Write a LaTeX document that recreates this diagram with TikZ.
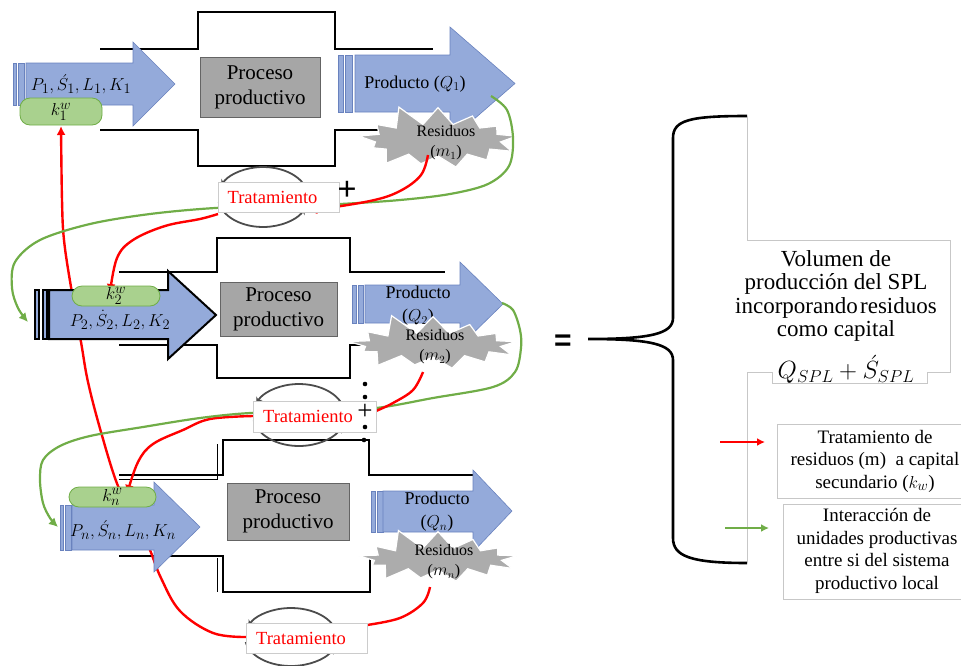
\documentclass[tikz,border=0pt]{standalone}
\usepackage{fontspec}
\setmainfont{Liberation Serif}
\newfontfamily\symfont{Liberation Sans}
\usetikzlibrary{arrows.meta,shapes.symbols,calc}
\definecolor{ablue}{RGB}{148,170,218}
\definecolor{ablueedge}{RGB}{105,130,190}
\definecolor{pgreen}{RGB}{169,209,142}
\definecolor{pgreenedge}{RGB}{112,173,71}
\definecolor{lgreen}{RGB}{112,173,71}
\definecolor{pgray}{RGB}{166,166,166}
\definecolor{sgray}{RGB}{172,172,172}
\definecolor{pgrayedge}{RGB}{100,100,100}
\definecolor{lred}{RGB}{255,0,0}
\pgfdeclarelayer{bg}
\pgfdeclarelayer{fg}
\pgfdeclarelayer{top}
\pgfsetlayers{bg,main,fg,top}
\begin{document}
\begin{tikzpicture}[x=1pt,y=-1pt,
  frame/.style={line width=1.6pt, black},
  barr/.style={fill=ablue, draw=ablueedge, line width=0.6pt},
  barrbold/.style={fill=ablue, draw=black, line width=2pt},
  pill/.style={fill=pgreen, draw=pgreenedge, line width=0.8pt, rounded corners=10pt, inner sep=0pt, font=\fontsize{19}{19}\selectfont},
  proc/.style={fill=pgray, draw=pgrayedge, line width=0.8pt, inner sep=0pt, align=center, font=\rmfamily\fontsize{21}{25}\selectfont},
  intext/.style={font=\fontsize{19}{19}\selectfont, inner sep=0pt},
  prodtext/.style={font=\fontsize{18}{23}\selectfont, align=center, inner sep=0pt},
  burst/.style={starburst, starburst points=13, starburst point height=22pt, random starburst=11, fill=sgray, draw=white, line width=1.2pt, inner sep=0pt},
  restext/.style={font=\fontsize{16}{20}\selectfont, align=center, inner sep=0pt},
  trat/.style={fill=white, draw=black!20, line width=0.6pt, inner sep=0pt, text=lred, font=\fontsize{18.5}{18.5}\selectfont},
  cyc/.style={draw=black!70, line width=1.8pt, -{Stealth[length=6pt,width=7pt,fill=gray]}},
  gline/.style={draw=lgreen, line width=2.2pt},
  rline/.style={draw=lred, line width=2.4pt},
  tipr/.style={-{Latex[length=9pt,width=9pt]}},
  boxline/.style={draw=black!22, line width=0.7pt},
  legtext/.style={font=\fontsize{19}{22.5}\selectfont, align=center, inner sep=0pt},
  dotm/.style={fill=black}
]
\useasboundingbox (0,0) rectangle (961,665);

% ---------------- frames ----------------
\begin{pgfonlayer}{bg}
\draw[frame] (100,49) -| (198,12) -| (335,49) -- (433,49);
\draw[frame] (100,130) -| (198,166) -| (335,130) -- (433,130);
\draw[frame] (119,272) -| (217,238) -| (350,272) -- (445,272);
\draw[frame] (119,345) -| (217,378) -| (350,345) -- (400,345);
\draw[frame, line width=2.4pt] (119,475) -| (223,440) -| (369,475) -- (473,475);
\draw[frame, line width=2.4pt] (119,556) -| (223,592) -| (370,556) -- (390,556);
\draw[line width=0.6pt] (119,479) -- (217,479) -- (217,444);
\draw[line width=0.6pt] (217,558) -- (217,592);
\end{pgfonlayer}

% ---------------- unit 1 ----------------
\draw[barr] (13,63) rectangle (16,105);
\draw[barr] (18,63) rectangle (24,105);
\draw[barr] (26,63) -- (133,63) -- (133,42) -- (175,84) -- (133,126) -- (133,105) -- (26,105) -- cycle;
\node[intext] (in1) at (81,84) {$P_1,\acute{S}_1,L_1,K_1$};
\node[pill, minimum width=82pt, minimum height=27pt] (k1) at (61,111.5) {$k_1^w$};
\node[proc, minimum width=120pt, minimum height=60pt] (pp1) at (260,87) {Proceso\\productivo};
\draw[barr] (338,55) rectangle (343,112);
\draw[barr] (345,55) rectangle (352,112);
\draw[barr] (355,55) -- (450,55) -- (450,27) -- (515,83.5) -- (450,140) -- (450,112) -- (355,112) -- cycle;
\node[prodtext] (prod1) at (415,84) {Producto ($Q_1$)};
\node[burst, minimum width=170pt, minimum height=76pt] (sb1) at (438,140) {};
\node[restext] (res1) at (446,143) {Residuos\\($m_1$)};

% ---------------- unit 2 ----------------
\draw[barrbold] (35,290) rectangle (39,339);
\draw[barrbold] (43,290) rectangle (47,339);
\draw[barrbold] (49,290) -- (168,290) -- (168,271) -- (216,315) -- (168,359) -- (168,339) -- (49,339) -- cycle;
\node[intext] (in2) at (120,320) {$P_2,\dot{S}_2,L_2,K_2$};
\node[pill, minimum width=88pt, minimum height=20pt] (k2) at (116,296) {$k_2^w$};
\node[proc, minimum width=117pt, minimum height=54pt] (pp2) at (278.5,309) {Proceso\\productivo};
\draw[barr] (352,285) rectangle (356,323);
\draw[barr] (358,285) rectangle (363,323);
\draw[barr] (365,285) -- (460,285) -- (460,262) -- (503,304) -- (460,346) -- (460,323) -- (365,323) -- cycle;
\node[prodtext] (prod2) at (418,306) {Producto\\($Q_2$)};
\node[burst, minimum width=180pt, minimum height=68pt] (sb2) at (433,345) {};
\node[restext] (res2) at (435,347) {Residuos\\($m_2$)};

% ---------------- unit n ----------------
\draw[barr] (60,505) rectangle (63,550);
\draw[barr] (65,505) rectangle (71,550);
\draw[barr] (72,505) -- (154,505) -- (154,482) -- (200,527) -- (154,572) -- (154,550) -- (72,550) -- cycle;
\node[intext] (inn) at (123,530) {$P_n,\acute{S}_n,L_n,K_n$};
\node[pill, minimum width=87pt, minimum height=20pt] (kn) at (112.5,497) {$k_n^w$};
\node[proc, minimum width=122pt, minimum height=57pt] (ppn) at (288,511.5) {Proceso\\productivo};
\draw[barr] (371,491) rectangle (375,532);
\draw[barr] (377,491) rectangle (383,532);
\draw[barr] (383,491) -- (473,491) -- (473,470) -- (512,511) -- (473,552) -- (473,532) -- (383,532) -- cycle;
\node[prodtext] (prodn) at (437,512) {Producto\\($Q_n$)};
\node[burst, minimum width=172pt, minimum height=66pt] (sbn) at (438,559) {};
\node[restext] (resn) at (444,562) {Residuos\\($m_n$)};

% ---------------- tratamiento ----------------
\begin{pgfonlayer}{top}
\draw[cyc] (263,197) ++(190:45pt and 30pt) arc[start angle=190, end angle=338, x radius=45pt, y radius=30pt];
\draw[cyc] (263,197) ++(10:45pt and 30pt) arc[start angle=10, end angle=158, x radius=45pt, y radius=30pt];
\node[trat, minimum width=121pt, minimum height=30pt] (t1) at (278.5,197) {Tratamiento\hspace*{12pt}};
\node[font=\fontsize{34}{34}\selectfont\bfseries, inner sep=0pt] (plus1) at (347,191) {+};

\draw[cyc] (299,415) ++(190:46pt and 31pt) arc[start angle=190, end angle=338, x radius=46pt, y radius=31pt];
\draw[cyc] (299,415) ++(10:46pt and 31pt) arc[start angle=10, end angle=158, x radius=46pt, y radius=31pt];
\node[trat, minimum width=123pt, minimum height=31pt] (t2) at (314.5,416.5) {Tratamiento\hspace*{13pt}};
\node[font=\fontsize{27}{27}\selectfont, inner sep=0pt] (plus2) at (365,412) {+};
\fill[dotm] (365,384) circle (2.3pt);
\fill[dotm] (365,397) circle (2.3pt);
\fill[dotm] (365,427) circle (2.3pt);
\fill[dotm] (364,440) circle (2.3pt);

\draw[cyc] (291,637) ++(190:46pt and 29pt) arc[start angle=190, end angle=338, x radius=46pt, y radius=29pt];
\draw[cyc] (291,637) ++(10:46pt and 29pt) arc[start angle=10, end angle=158, x radius=46pt, y radius=29pt];
\node[trat, minimum width=121pt, minimum height=30pt] (tn) at (306.5,638) {Tratamiento\hspace*{11pt}};
\end{pgfonlayer}

% ---------------- connector end points ----------------
\coordinate (o1g) at (491,96);
\coordinate (in2g) at (28,322);
\coordinate (o2g) at (502,303);
\coordinate (inng) at (58,527);
\coordinate (t1bl) at (218,214);
\coordinate (k2t) at (110,293);
\coordinate (t2L) at (253,416);
\coordinate (kntt) at (127,494);
\coordinate (tnL) at (246,637);
\coordinate (k1b) at (61,126);
\coordinate (res1b) at (428,155);
\coordinate (t1r) at (308,211);
\coordinate (res2b) at (423,372);
\coordinate (t2r) at (376,411);
\coordinate (resnb) at (430,587);
\coordinate (tnr) at (367,625);

% ---------------- red lines behind arrows ----------------
\begin{pgfonlayer}{bg}
\draw[rline, tipr] plot[smooth, tension=0.6] coordinates {(tnL) (213,633) (180,611) (161,578) (150,550) (135,515) (118,486) (101,432) (88,382) (81,342) (71,287) (64,240) (62,200) (k1b)};
\draw[rline, tipr] plot[smooth, tension=0.6] coordinates {(t1bl) (200,219) (165,226) (133,240) (117,258) (k2t)};
\draw[rline, tipr] plot[smooth, tension=0.6] coordinates {(t2L) (210,419) (183,430) (153,444) (138,462) (kntt)};
\end{pgfonlayer}

% ---------------- green and red lines in front ----------------
\begin{pgfonlayer}{fg}
\draw[gline, -{Latex[length=9pt,width=9pt]}] plot[smooth, tension=0.55] coordinates {(o1g) (507,110) (513,138) (509,166) (488,184) (450,194) (400,200) (340,204) (280,206) (215,208) (150,214) (90,224) (40,240) (15,262) (12,288) (18,308) (in2g)};
\draw[gline, -{Latex[length=9pt,width=9pt]}] plot[smooth, tension=0.55] coordinates {(o2g) (513,310) (520,330) (521,348) (515,372) (493,387) (433,398) (376,408) (314,411) (250,413) (200,418) (143,427) (90,436) (60,446) (43,460) (40,480) (43,503) (50,518) (inng)};
\draw[rline, tipr] plot[smooth, tension=0.6] coordinates {(res1b) (421,175) (400,191) (370,201) (t1r)};
\draw[rline] plot[smooth, tension=0.6] coordinates {(res2b) (413,390) (393,403) (t2r)};
\draw[rline] plot[smooth, tension=0.6] coordinates {(resnb) (423,603) (400,618) (tnr)};
\end{pgfonlayer}

% ---------------- right side ----------------
\node[font=\symfont\bfseries\fontsize{30}{30}\selectfont, inner sep=0pt] (eq) at (563,343) {=};
\draw[line width=2.6pt] (747,116) .. controls (690,116) and (673,120) .. (673,138) -- (673,318) .. controls (673,334) and (650,339) .. (588,339) .. controls (650,339) and (673,344) .. (673,360) -- (673,538) .. controls (673,556) and (690,563) .. (747,563);
\draw[boxline] (747,116) -- (747,240);
\draw[boxline] (747,372) -- (747,563);
\draw[boxline] (747,240) -- (950,240) -- (950,372) -- (927,372) -- (927,383) -- (772,383) -- (772,372) -- (747,372);
\node[font=\rmfamily\fontsize{23}{23.5}\selectfont, align=center, inner sep=0pt] (vol) at (836,296) {Volumen de\\producción del SPL\\incorporando\hspace{0.1em}residuos\\como capital};
\node[font=\fontsize{26}{26}\selectfont, inner sep=0pt] (qspl) at (846,369) {$Q_{SPL}+\acute{S}_{SPL}$};

\node[boxline, draw, minimum width=186pt, minimum height=74pt, inner sep=0pt] (leg1) at (870,461) {};
\node[legtext] (leg1t) at (875,461) {Tratamiento de\\residuos (m)~ a capital\\secundario ($k_w$)};
\node[boxline, draw, minimum width=180pt, minimum height=95pt, inner sep=0pt] (leg2) at (873,551.5) {};
\node[legtext] (leg2t) at (877,551) {Interacción de\\unidades productivas\\entre si del sistema\\productivo local};
\coordinate (lr1) at (720,442);
\coordinate (lr2) at (765,442);
\coordinate (lg1) at (725,528);
\coordinate (lg2) at (769,528);
\draw[rline, line width=2pt, -{Latex[length=8pt,width=8pt]}] (lr1) -- (lr2);
\draw[gline, line width=2.6pt, -{Latex[length=8pt,width=8pt]}] (lg1) -- (lg2);
\end{tikzpicture}
\end{document}
